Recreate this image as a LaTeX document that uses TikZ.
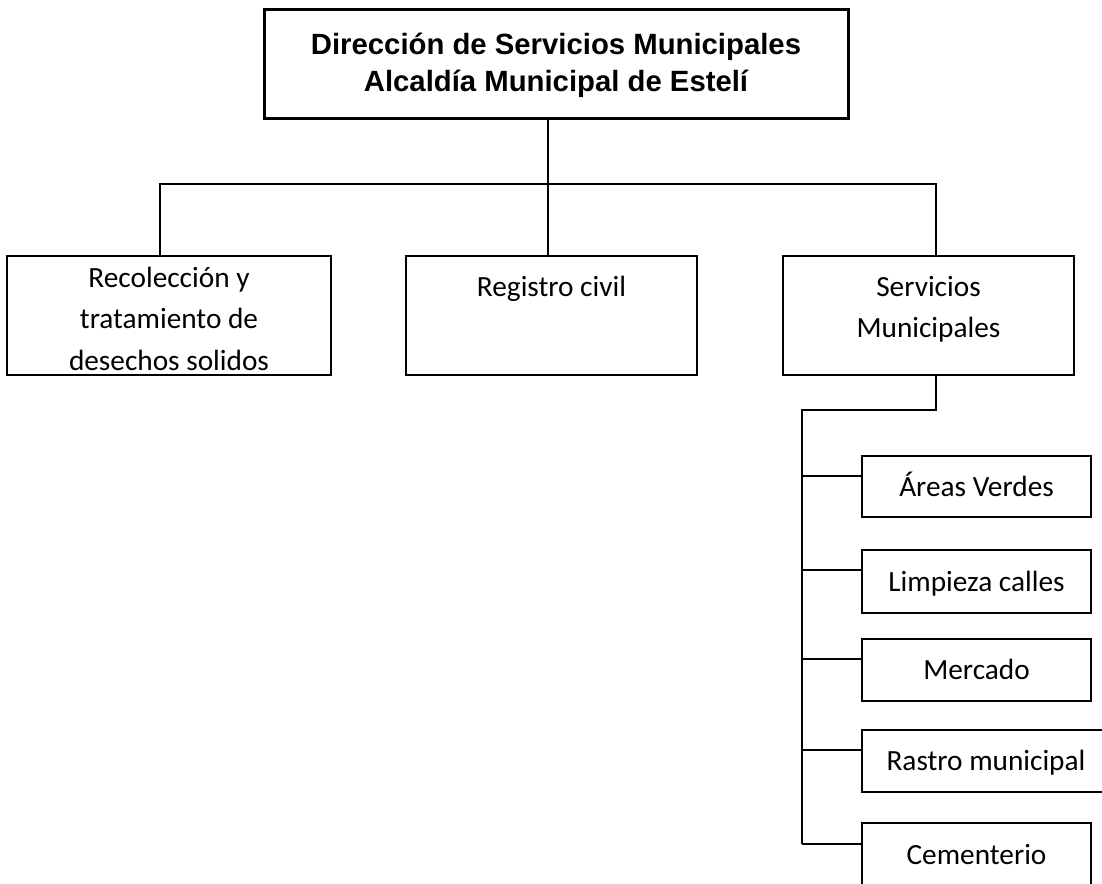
\documentclass[tikz,border=0pt]{standalone}
\usepackage{fontspec}
\setmainfont{Carlito}
\newfontfamily\arialfont{Liberation Sans}
\begin{document}
\begin{tikzpicture}[x=1pt,y=-1pt,
  box/.style={draw=black,line width=1.8pt,inner sep=0pt,outer sep=0pt},
  topbox/.style={draw=black,line width=3pt,inner sep=0pt,outer sep=0pt},
  conn/.style={draw=black,line width=2pt},
  txt/.style={inner sep=0pt,outer sep=0pt,anchor=base,align=center,font=\fontsize{29.3}{41.5}\selectfont},
  toptxt/.style={inner sep=0pt,outer sep=0pt,anchor=base,align=center,font=\arialfont\bfseries\fontsize{29.3}{37}\selectfont}]
\useasboundingbox (0,0) rectangle (1102,883);
\clip (0,0) rectangle (1102,883);
\fill[white] (0,0) rectangle (1102,883);
% top
\node[topbox,minimum width=584pt,minimum height=108pt] (top) at (556,64) {};
\node[toptxt] (topt) at (556,92) {Dirección de Servicios Municipales\\Alcaldía Municipal de Estelí};
% second row
\node[box,minimum width=324pt,minimum height=119pt] (rec) at (169,315.5) {};
\node[box,minimum width=291pt,minimum height=119pt] (reg) at (551.5,315.5) {};
\node[box,minimum width=291pt,minimum height=119pt] (serv) at (928.5,315.5) {};
\node[txt] (rect) at (169,370) {Recolección y\\tratamiento de\\desechos solidos};
\node[txt] (regt) at (551.5,296) {Registro civil};
\node[txt] (servt) at (928.5,337.5) {Servicios\\Municipales};
% small boxes
\node[box,minimum width=229pt,minimum height=61pt] (areas) at (976.5,486.5) {};
\node[box,minimum width=229pt,minimum height=63pt] (limp) at (976.5,581.5) {};
\node[box,minimum width=229pt,minimum height=62pt] (merc) at (976.5,670) {};
\node[box,minimum width=248pt,minimum height=62pt] (rast) at (986,761) {};
\node[box,minimum width=229pt,minimum height=63pt] (cem) at (976.5,854.5) {};
\node[txt] (areast) at (976.5,496) {Áreas Verdes};
\node[txt] (limpt) at (976.5,591) {Limpieza calles};
\node[txt] (merct) at (976.5,679.5) {Mercado};
\node[txt] (rastt) at (986,770.5) {Rastro municipal};
\node[txt] (cemt) at (976.5,864) {Cementerio};
% connectors top
\coordinate (hub) at (548,184);
\coordinate (h1) at (160,184);
\coordinate (h3) at (936,184);
\draw[conn] (hub |- top.south) -- (hub);
\draw[conn] (h1 |- rec.north) -- (h1) -- (h3) -- (h3 |- serv.north);
\draw[conn] (hub) -- (hub |- reg.north);
% connectors right
\coordinate (s1) at (936,410);
\coordinate (s2) at (802,410);
\coordinate (b1) at (802,476);
\coordinate (b2) at (802,570);
\coordinate (b3) at (802,659);
\coordinate (b4) at (802,750);
\coordinate (b5) at (802,844);
\draw[conn] (s1 |- serv.south) -- (s1) -- (s2) -- (b5);
\draw[conn] (b1) -- (b1 -| areas.west);
\draw[conn] (b2) -- (b2 -| limp.west);
\draw[conn] (b3) -- (b3 -| merc.west);
\draw[conn] (b4) -- (b4 -| rast.west);
\draw[conn] (b5) -- (b5 -| cem.west);
\end{tikzpicture}
\end{document}
